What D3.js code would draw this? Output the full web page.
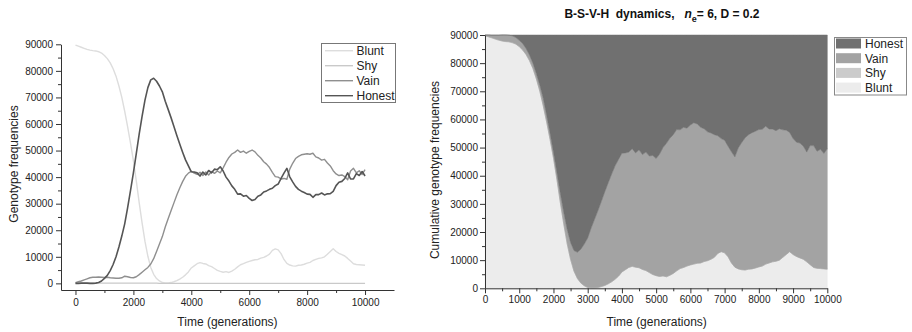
<!DOCTYPE html>
<html><head><meta charset="utf-8">
<script src="https://cdn.jsdelivr.net/npm/d3@7"></script>
<style>
html,body{margin:0;padding:0;background:#fff;}
svg text{font-family:"Liberation Sans",Arial,sans-serif;}
</style></head>
<body>
<svg id="c" width="912" height="332"></svg>
<script>
// generations sampled every 100
const generations = d3.range(0, 10001, 100);
const blunt = [89700,89300,88900,88500,88100,87800,87600,87500,87200,86700,
85800,84600,83000,80800,78000,74300,70000,64800,59000,52800,
46200,38600,30400,22800,15800,10200,6000,3400,1800,900,
300,200,200,300,600,1000,1600,2300,3200,4300,
5800,6600,7400,7800,7500,7300,6700,6300,5600,4900,
4500,4200,4400,4100,4600,5300,6200,7000,7400,7900,
8300,8600,8900,9000,9500,9800,10300,11000,12400,13000,
12600,11200,9000,7500,6900,6600,6500,6800,6900,7200,
7600,7900,8600,9000,9400,9600,10000,11000,12000,13000,
12000,11300,10800,10300,9400,8400,7400,7100,7000,6900,6800];
const shy = [0,100,100,100,100,100,100,100,100,100,
100,100,100,100,100,100,100,100,100,100,
100,100,100,100,100,100,100,100,100,0,
0,0,0,0,0,0,0,0,0,0,
0,0,0,0,0,0,0,0,0,0,
0,0,0,0,0,0,0,0,0,0,
0,0,0,0,0,0,0,0,0,0,
0,0,0,0,0,0,0,0,0,0,
0,0,0,0,0,0,0,0,0,0,
0,0,0,0,0,0,0,0,0,0,0];
const vain = [300,600,900,1300,1700,2100,2300,2300,2400,2300,
2200,2300,2100,2000,1900,1900,2100,2700,2500,2200,
2100,2500,3300,4200,5100,6000,7300,9300,12000,14800,
17600,21200,24300,27300,30300,33300,35900,38300,40300,41500,
42200,41500,41000,41800,40600,41900,40800,42100,41400,42300,
41600,43500,45600,47400,48700,49300,50200,49300,49800,49000,
49700,50200,49500,48200,47200,45800,44900,43600,41800,40200,
40000,39300,39500,39200,43000,45200,47000,47800,48400,48600,
48800,48600,49000,47600,47200,46400,46700,45300,44200,42400,
41200,40600,40800,40200,39000,42300,43300,41600,42400,41000,42800];
const honest = [0,0,100,100,100,0,0,100,300,900,
1900,3000,4800,7100,10000,13700,17800,22400,28400,34900,
41600,48800,56200,62900,69000,73700,76600,77200,76100,74300,
72100,68600,65500,62400,59100,55700,52500,49400,46500,44200,
42000,41900,41600,40400,41900,40800,42500,41600,43000,42800,
43900,42300,40000,38500,36700,35400,33600,33700,32800,33100,
32000,31200,31600,32800,33300,34400,34800,35400,35800,36800,
37400,39500,41500,43300,40100,38200,36500,35400,34700,34200,
33600,33500,32400,33400,33400,34000,33300,33700,33800,34600,
36800,38100,38400,39500,41600,39300,39300,41300,40600,42100,40400];

const seriesNames = ["Blunt","Shy","Vain","Honest"];
const seriesData = {Blunt: blunt, Shy: shy, Vain: vain, Honest: honest};
const lineColors = {Blunt:"#dddddd", Shy:"#c9c9c9", Vain:"#8f8f8f", Honest:"#555555"};
const areaColors = {Blunt:"#ececec", Shy:"#cbcbcb", Vain:"#a3a3a3", Honest:"#707070"};

const leftYTicks = d3.range(0, 90001, 10000);
const leftXTicks = [0,2000,4000,6000,8000,10000];
const rightXTicks = d3.range(0, 10001, 1000);
const rightYTicks = d3.range(0, 90001, 10000);

const svg = d3.select("#c");
const axisColor = "#333";

function styleAxis(g){
  g.selectAll("path,line").attr("stroke", axisColor);
  g.selectAll("text").attr("fill","#222").style("font-size","10px");
}

// ---------- LEFT CHART ----------
const xL = d3.scaleLinear().domain([-500, 11000]).range([61, 394]);
const yL = d3.scaleLinear().domain([-2500, 90000]).range([290, 44.3]);
const gL = svg.append("g");

// minor ticks
gL.append("g").attr("transform","translate(0,290)")
  .call(d3.axisBottom(xL).tickValues(d3.range(1000,10001,2000)).tickSize(3).tickFormat(""))
  .call(g=>{g.select(".domain").remove(); styleAxis(g);});
gL.append("g").attr("transform","translate(61,0)")
  .call(d3.axisLeft(yL).tickValues(d3.range(5000,90000,10000)).tickSize(3).tickFormat(""))
  .call(g=>{g.select(".domain").remove(); styleAxis(g);});
// major axes
gL.append("g").attr("transform","translate(0,290)")
  .call(d3.axisBottom(xL).tickValues(leftXTicks).tickSize(5).tickSizeOuter(0).tickPadding(4).tickFormat(d3.format("d")))
  .call(styleAxis);
gL.append("g").attr("transform","translate(61,0)")
  .call(d3.axisLeft(yL).tickValues(leftYTicks).tickSize(5).tickSizeOuter(0).tickPadding(3).tickFormat(d3.format("d")))
  .call(styleAxis);

const lineL = d3.line().x((d,i)=>xL(generations[i])).y(d=>yL(d));
seriesNames.forEach(n=>{
  gL.append("path").datum(seriesData[n]).attr("d", lineL)
    .attr("fill","none").attr("stroke", lineColors[n]).attr("stroke-width", n==="Honest"?1.6:1.4)
    .attr("stroke-linejoin","round");
});

gL.append("text").attr("x",227.5).attr("y",326).attr("text-anchor","middle")
  .style("font-size","12px").attr("fill","#222").text("Time (generations)");
gL.append("text").attr("transform","translate(18,164) rotate(-90)").attr("text-anchor","middle")
  .style("font-size","12px").attr("fill","#222").text("Genotype frequencies");

// left legend
const legL = gL.append("g");
legL.append("rect").attr("x",321.5).attr("y",43.5).attr("width",74).attr("height",59)
  .attr("fill","#fff").attr("stroke","#777").attr("stroke-width",1);
seriesNames.forEach((n,i)=>{
  const cy = 50.7 + i*15;
  legL.append("line").attr("x1",325).attr("x2",353).attr("y1",cy).attr("y2",cy)
    .attr("stroke", lineColors[n]).attr("stroke-width",1.4);
  legL.append("text").attr("x",356.5).attr("y",cy+4.3).style("font-size","12px").attr("fill","#222").text(n);
});

// ---------- RIGHT CHART ----------
const xR = d3.scaleLinear().domain([0,10000]).range([485, 827.3]);
const yR = d3.scaleLinear().domain([0,90000]).range([288.3, 35]);
const gR = svg.append("g");

const table = generations.map((g,i)=>({g, Blunt:blunt[i], Shy:shy[i], Vain:vain[i], Honest:honest[i]}));
const stacked = d3.stack().keys(seriesNames)(table);
const area = d3.area().x(d=>xR(d.data.g)).y0(d=>yR(d[0])).y1(d=>yR(d[1]));
gR.selectAll("path.layer").data(stacked).join("path").attr("class","layer")
  .attr("d", area).attr("fill", d=>areaColors[d.key]).attr("stroke", d=>areaColors[d.key]).attr("stroke-width",0.5);

gR.append("g").attr("transform","translate(0,288.3)")
  .call(d3.axisBottom(xR).tickValues(d3.range(500,10000,1000)).tickSize(3).tickFormat(""))
  .call(g=>{g.select(".domain").remove(); styleAxis(g);});
gR.append("g").attr("transform","translate(485,0)")
  .call(d3.axisLeft(yR).tickValues(d3.range(5000,90000,10000)).tickSize(3).tickFormat(""))
  .call(g=>{g.select(".domain").remove(); styleAxis(g);});
gR.append("g").attr("transform","translate(0,288.3)")
  .call(d3.axisBottom(xR).tickValues(rightXTicks).tickSize(5).tickSizeOuter(0).tickPadding(3).tickFormat(d3.format("d")))
  .call(styleAxis);
gR.append("g").attr("transform","translate(485,0)")
  .call(d3.axisLeft(yR).tickValues(rightYTicks).tickSize(5).tickSizeOuter(0).tickPadding(2).tickFormat(d3.format("d")))
  .call(styleAxis);

gR.append("text").attr("x",656.7).attr("y",326).attr("text-anchor","middle")
  .style("font-size","12px").attr("fill","#222").text("Time (generations)");
gR.append("text").attr("transform","translate(439,170) rotate(-90)").attr("text-anchor","middle")
  .style("font-size","12px").attr("fill","#222").text("Cumulative genotype frequencies");

const title = gR.append("text").attr("x",662).attr("y",18).attr("text-anchor","middle")
  .style("font-size","12px").style("font-weight","bold").style("white-space","pre").attr("fill","#111");
title.append("tspan").text("B-S-V-H  dynamics,   ");
title.append("tspan").style("font-style","italic").text("n");
title.append("tspan").attr("dy",4).style("font-size","9px").text("e");
title.append("tspan").attr("dy",-4).text("= 6, D = 0.2");

// right legend
const legR = gR.append("g");
legR.append("rect").attr("x",834.5).attr("y",37.5).attr("width",72).attr("height",57.5)
  .attr("fill","#fff").attr("stroke","#888").attr("stroke-width",1);
seriesNames.slice().reverse().forEach((n,i)=>{
  const cy = 43.5 + i*14.7;
  legR.append("rect").attr("x",836).attr("y",cy-5).attr("width",25).attr("height",10).attr("fill",areaColors[n]);
  legR.append("text").attr("x",865).attr("y",cy+4.3).style("font-size","12px").attr("fill","#222").text(n);
});
</script>
</body></html>
